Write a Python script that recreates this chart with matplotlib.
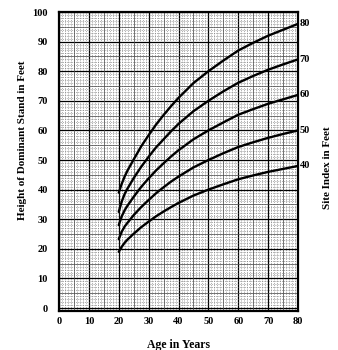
import numpy as np
import matplotlib.pyplot as plt

# ages
ages = [20, 21, 22, 23, 25, 27.5, 30, 32.5, 35, 37.5, 40, 45, 50, 55, 60, 65, 70, 75, 80]

# height of dominant stand (feet) for each site index curve
si80 = [39, 42, 44.5, 46.6, 50.2, 54.6, 58.4, 62, 65.2, 68.2, 71, 76, 80, 83.6, 87, 89.6, 92, 94, 96]
si70 = [32.5, 36, 38.6, 40.5, 43.9, 47.7, 51.1, 54.3, 57, 59.7, 62.2, 66.5, 70, 73.2, 76.1, 78.4, 80.5, 82.3, 84]
si60 = [28, 31, 33.1, 34.7, 37.6, 40.9, 43.8, 46.5, 48.9, 51.2, 53.3, 57, 60, 62.7, 65.3, 67.2, 69, 70.5, 72]
si50 = [23.3, 25.8, 27.6, 28.9, 31.4, 34.1, 36.5, 38.8, 40.8, 42.7, 44.4, 47.5, 50, 52.3, 54.4, 56, 57.5, 58.8, 60]
si40 = [19, 20.7, 22.1, 23.2, 25.1, 27.3, 29.2, 31, 32.6, 34.1, 35.5, 38, 40, 41.8, 43.5, 44.8, 46, 47, 48]

curves = [si80, si70, si60, si50, si40]
site_labels = ['80', '70', '60', '50', '40']

x_ticks = [0, 10, 20, 30, 40, 50, 60, 70, 80]
y_ticks = [0, 10, 20, 30, 40, 50, 60, 70, 80, 90, 100]

plt.rcParams['font.family'] = ['Liberation Serif', 'DejaVu Serif']
plt.rcParams['font.weight'] = 'bold'

fig = plt.figure(figsize=(3.38, 3.5), dpi=100)
ax = fig.add_axes([0.1746, 0.1114, 0.7071, 0.8543])

ax.set_xlim(0, 80)
ax.set_ylim(-1, 100)

# graph paper: dotted every unit, thin solid every 5, heavier every 10
ax.set_xticks(x_ticks)
ax.set_yticks(y_ticks)
ax.set_xticks(np.arange(0, 81, 1), minor=True)
ax.set_yticks(np.arange(0, 101, 1), minor=True)
ax.grid(which='minor', color='0.4', linestyle=':', linewidth=0.5)
ax.grid(which='major', color='black', linestyle='-', linewidth=0.9)
for v in range(5, 80, 10):
    ax.axvline(v, color='0.3', linewidth=0.5)
for v in range(5, 100, 10):
    ax.axhline(v, color='0.3', linewidth=0.5)
ax.set_axisbelow(True)

for h, lab in zip(curves, site_labels):
    ax.plot(ages, h, color='black', linewidth=1.7, solid_capstyle='round',
            solid_joinstyle='round')
    ax.text(80.6, h[-1], lab, fontsize=7.5, fontweight='bold',
            ha='left', va='center', clip_on=False)

ax.tick_params(which='both', length=0)
ax.tick_params(axis='x', pad=4, labelsize=7.5)
ax.tick_params(axis='y', pad=8, labelsize=7.5)
for lbl in ax.get_xticklabels() + ax.get_yticklabels():
    lbl.set_fontweight('bold')

for s in ax.spines.values():
    s.set_linewidth(1.6)
    s.set_color('black')

ax.set_xlabel('Age in Years', fontsize=8.5, fontweight='bold', labelpad=10)
ax.set_ylabel('Height of Dominant Stand in Feet', fontsize=8,
              fontweight='bold')
ax.yaxis.set_label_coords(-0.135, 0.57)
fig.text(0.97, 0.52, 'Site Index in Feet', rotation=90, fontsize=8,
         fontweight='bold', ha='center', va='center')

fig.savefig('out.png', dpi=100)
